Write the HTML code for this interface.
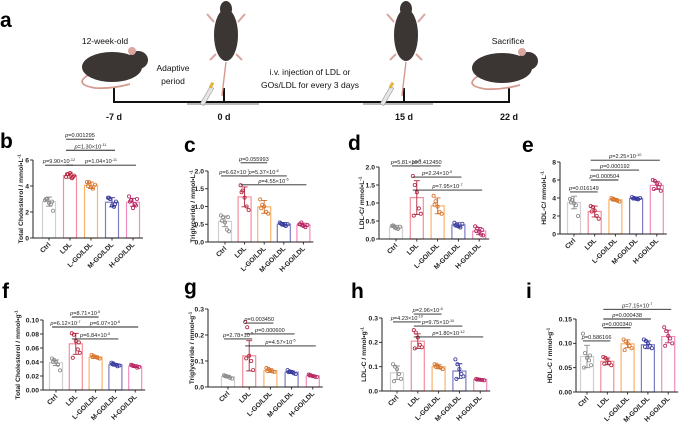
<!DOCTYPE html>
<html><head><meta charset="utf-8">
<style>
html,body{margin:0;padding:0;background:#fff;}
svg{display:block;font-family:"Liberation Sans",sans-serif;}
</style></head>
<body>
<svg id="fig" width="683" height="426" viewBox="0 0 683 426">
  <g>
    <text x="0" y="27" font-size="21" font-weight="bold">a</text>
    <line x1="114" y1="102" x2="510" y2="102" stroke="#111" stroke-width="2"/>
    <rect x="187" y="103" width="72" height="2" fill="#bbb"/>
    <rect x="363" y="103" width="70" height="2" fill="#bbb"/>
    <line x1="114" y1="88" x2="114" y2="103" stroke="#111" stroke-width="2"/>
    <line x1="224" y1="88" x2="224" y2="103" stroke="#111" stroke-width="2"/>
    <line x1="404" y1="88" x2="404" y2="103" stroke="#111" stroke-width="2"/>
    <line x1="509" y1="88" x2="509" y2="103" stroke="#111" stroke-width="2"/>
    <g font-size="9" font-weight="bold" text-anchor="middle" fill="#111">
      <text x="114" y="120">-7 d</text>
      <text x="224" y="120">0 d</text>
      <text x="404" y="120">15 d</text>
      <text x="509" y="120">22 d</text>
    </g>
    <g font-size="8.5" text-anchor="middle" fill="#111">
      <text x="105" y="44">12-week-old</text>
      <text x="173" y="71">Adaptive</text>
      <text x="173" y="84">period</text>
      <text x="310" y="75">i.v. injection of LDL or</text>
      <text x="310" y="88">GOs/LDL for every 3 days</text>
      <text x="508" y="44">Sacrifice</text>
    </g>
    <g>
      <path d="M90 74 Q72 84 95 88 Q112 89 130 84" stroke="#d49a8e" stroke-width="1.8" fill="none"/>
      <ellipse cx="112" cy="67" rx="30" ry="15" fill="#3b3534"/>
      <ellipse cx="138" cy="60" rx="10" ry="9" fill="#3b3534"/>
      <circle cx="132" cy="51" r="4" fill="#d9a6a0"/>
    </g>
    <g>
      <path d="M480 75 Q462 85 485 89 Q502 90 520 85" stroke="#d49a8e" stroke-width="1.8" fill="none"/>
      <ellipse cx="502" cy="68" rx="30" ry="15" fill="#3b3534"/>
      <ellipse cx="528" cy="61" rx="10" ry="9" fill="#3b3534"/>
      <circle cx="522" cy="52" r="4" fill="#d9a6a0"/>
    </g>
    <g>
      <path d="M226 62 Q224 78 222 96" stroke="#d49a8e" stroke-width="1.4" fill="none"/>
      <ellipse cx="226" cy="35" rx="12" ry="26" fill="#3b3534"/>
      <ellipse cx="226" cy="9" rx="6" ry="8" fill="#3b3534"/>
      <path d="M214 22 L207 14 M238 22 L245 14 M216 54 L210 60 M236 54 L242 60" stroke="#d9a6a0" stroke-width="2"/>
      <rect x="205" y="86" width="4" height="20" fill="#e6e6e6" stroke="#999" stroke-width="0.6" transform="rotate(30 207 96)"/>
      <rect x="210" y="82" width="3" height="6" fill="#e3b33a" transform="rotate(30 211 85)"/>
    </g>
    <g>
      <path d="M406 62 Q404 78 402 96" stroke="#d49a8e" stroke-width="1.4" fill="none"/>
      <ellipse cx="406" cy="35" rx="12" ry="26" fill="#3b3534"/>
      <ellipse cx="406" cy="9" rx="6" ry="8" fill="#3b3534"/>
      <path d="M394 22 L387 14 M418 22 L425 14 M396 54 L390 60 M416 54 L422 60" stroke="#d9a6a0" stroke-width="2"/>
      <rect x="385" y="86" width="4" height="20" fill="#e6e6e6" stroke="#999" stroke-width="0.6" transform="rotate(30 387 96)"/>
      <rect x="390" y="82" width="3" height="6" fill="#e3b33a" transform="rotate(30 391 85)"/>
    </g>
  </g>
  <g id="charts"></g>
</svg>
<script>
const cats = ['Ctrl','LDL','L-GO/LDL','M-GO/LDL','H-GO/LDL'];

const bMeans = [2.8, 4.8, 4.05, 2.75, 2.75];
const bSD = [0.35, 0.2, 0.25, 0.35, 0.3];
const bPoints = [[2.9,3.0,2.7,2.6,2.1,3.0,2.8],[4.7,4.9,5.0,4.6,4.8,4.9,4.7],[4.3,4.3,3.9,3.8,4.1,4.0],[3.1,3.0,2.5,2.4,2.8,3.1,2.6],[3.2,2.9,2.3,2.6,3.0,2.8,2.5]];
const bTicks = [0,2,4,6];
const bTickLabels = ['0','2','4','6'];
const bPvals = [[1,2,7.6,'0.001295'],[1,3,6.75,'1.30×10|-11'],[0,1,5.6,'9.90×10|-12'],[1,4,5.6,'1.04×10|-11']];

const cMeans = [0.58, 1.27, 0.99, 0.5, 0.48];
const cSD = [0.15, 0.28, 0.18, 0.05, 0.05];
const cPoints = [[0.75,0.7,0.55,0.35,0.3,0.6,0.7],[1.6,1.45,1.25,1.0,0.9,1.4],[1.2,1.05,1.0,0.85,0.8,0.95],[0.55,0.5,0.48,0.45,0.5,0.52],[0.5,0.55,0.45,0.42,0.48,0.5]];
const cTicks = [0,0.5,1,1.5,2];
const cTickLabels = ['0.0','0.5','1.0','1.5','2.0'];
const cPvals = [[1,2,2.23,'0.055993'],[0,1,1.86,'6.62×10|-7'],[1,3,1.86,'5.37×10|-6'],[1,4,1.61,'4.55×10|-6']];

const dMeans = [0.33, 1.15, 0.92, 0.39, 0.22];
const dSD = [0.05, 0.47, 0.22, 0.06, 0.1];
const dPoints = [[0.36,0.35,0.3,0.28,0.34,0.38],[1.75,1.5,1.3,0.85,0.7,0.65],[1.2,1.05,0.9,0.75,0.7,0.95],[0.45,0.4,0.35,0.32,0.42,0.38],[0.35,0.3,0.2,0.12,0.1,0.22,0.25]];
const dTicks = [0,0.5,1,1.5,2];
const dTickLabels = ['0.0','0.5','1.0','1.5','2.0'];
const dPvals = [[0,1,2.03,'5.81×10|-6'],[1,2,2.03,'0.412450'],[1,3,1.72,'2.24×10|-5'],[1,4,1.36,'7.95×10|-7']];

const eMeans = [3.5, 2.5, 3.8, 3.95, 5.4];
const eSD = [0.7, 0.6, 0.15, 0.15, 0.45];
const ePoints = [[3.9,3.8,3.4,3.2,2.0,3.5],[3.1,3.0,2.6,2.0,1.7,2.5],[4.0,3.9,3.8,3.7,3.6,3.85],[4.1,4.0,3.9,3.85,4.0,3.95],[6.0,5.9,5.6,5.2,4.8,5.0,5.5]];
const eTicks = [0,2,4,6,8];
const eTickLabels = ['0','2','4','6','8'];
const ePvals = [[1,4,8.2,'2.25×10|-10'],[1,3,7.1,'0.000192'],[1,2,6.0,'0.000504'],[0,1,4.67,'0.016149']];

const fMeans = [0.039, 0.066, 0.047, 0.036, 0.034];
const fSD = [0.004, 0.015, 0.002, 0.002, 0.002];
const fPoints = [[0.045,0.043,0.04,0.036,0.028,0.04],[0.081,0.079,0.07,0.058,0.053,0.046,0.068],[0.05,0.049,0.047,0.046,0.045,0.047],[0.039,0.038,0.036,0.034,0.035,0.037],[0.036,0.035,0.034,0.032,0.033,0.035]];
const fTicks = [0,0.02,0.04,0.06,0.08,0.10];
const fTickLabels = ['0.00','0.02','0.04','0.06','0.08','0.10'];
const fPvals = [[1,2,0.1043,'8.71×10|-5'],[0,1,0.09,'6.12×10|-7'],[1,4,0.09,'6.07×10|-6'],[1,3,0.0729,'6.84×10|-5']];

const gMeans = [0.04, 0.12, 0.063, 0.057, 0.043];
const gSD = [0.005, 0.058, 0.007, 0.005, 0.004];
const gPoints = [[0.045,0.043,0.04,0.035,0.032,0.042],[0.25,0.23,0.12,0.10,0.065,0.11],[0.073,0.07,0.065,0.06,0.058,0.062],[0.065,0.06,0.058,0.053,0.05,0.057],[0.048,0.045,0.042,0.04,0.038,0.044]];
const gTicks = [0,0.1,0.2,0.3];
const gTickLabels = ['0.0','0.1','0.2','0.3'];
const gPvals = [[1,2,0.246,'0.003450'],[1,3,0.204,'0.000600'],[0,1,0.185,'2.78×10|-5'],[1,4,0.158,'4.57×10|-5']];

const hMeans = [0.075, 0.205, 0.1, 0.082, 0.047];
const hSD = [0.028, 0.03, 0.008, 0.03, 0.003];
const hPoints = [[0.11,0.1,0.09,0.07,0.05,0.04],[0.25,0.24,0.22,0.19,0.18,0.175],[0.11,0.108,0.1,0.095,0.09,0.1],[0.13,0.11,0.09,0.07,0.06,0.05],[0.05,0.048,0.046,0.045,0.044,0.047]];
const hTicks = [0,0.1,0.2,0.3];
const hTickLabels = ['0.0','0.1','0.2','0.3'];
const hPvals = [[1,2,0.316,'2.96×10|-6'],[0,1,0.284,'4.23×10|-10'],[1,3,0.267,'9.75×10|-10'],[1,4,0.222,'1.80×10|-12']];

const iMeans = [0.073, 0.063, 0.099, 0.097, 0.114];
const iSD = [0.023, 0.007, 0.008, 0.008, 0.013];
const iPoints = [[0.12,0.08,0.07,0.065,0.055,0.05,0.075],[0.072,0.07,0.065,0.06,0.055,0.058],[0.108,0.104,0.1,0.095,0.09,0.086],[0.108,0.105,0.1,0.095,0.09,0.093],[0.133,0.125,0.115,0.11,0.1,0.095]];
const iTicks = [0,0.05,0.10,0.15];
const iTickLabels = ['0.00','0.05','0.10','0.15'];
const iPvals = [[1,4,0.170,'7.15×10|-7'],[1,3,0.150,'0.000438'],[1,2,0.132,'0.000340'],[0,1,0.105,'0.586166']];

const barStroke = ['#d0d0d0','#f48e9b','#f9b36a','#7c7cc4','#f28dbd'];
const dotColor = ['#8a8a8a','#b3243c','#d4722a','#35379a','#b6245f'];
const jit = [-4,-2,0,2,4,-3,3];
const NS = 'http://www.w3.org/2000/svg';
const root = document.getElementById('charts');

function mk(tag, attrs, parent){
  const el = document.createElementNS(NS, tag);
  for (const k in attrs) el.setAttribute(k, attrs[k]);
  parent.appendChild(el);
  return el;
}

function pText(parent, x, y, s){
  const t = mk('text', {x:x, y:y, 'font-size':5.6, 'text-anchor':'middle', fill:'#222'}, parent);
  const it = mk('tspan', {'font-style':'italic'}, t);
  it.textContent = 'p';
  const parts = s.split('|');
  const m = mk('tspan', {}, t);
  m.textContent = '=' + parts[0];
  if (parts[1]) {
    const sup = mk('tspan', {'font-size':3.8, dy:-2.2}, t);
    sup.textContent = parts[1];
  }
  return t;
}

function panel(key, L, title, means, sds, pts, ticks, tickLabels, pvals){
  const g = mk('g', {}, root);
  
  
  const yMax = ticks[ticks.length-1];
  const yS = v => L.y0 - v / yMax * (L.y0 - L.top);
  const xS = i => L.first + i * L.step;
  const lab = mk('text', {x:L.lx, y:L.ly, 'font-size':21, 'font-weight':'bold'}, g);
  lab.textContent = key;
  
  
  means.forEach((m, i) => {
    const r = mk('rect', {x:xS(i)-6.5, y:yS(m), width:13, height:L.y0-yS(m), fill:'#fff', stroke:barStroke[i], 'stroke-width':1.2}, g);
    
    
  });
  pts.forEach((arr, i) => {
    arr.forEach((v, k) => {
      const c = mk('circle', {cx:xS(i)+jit[k%jit.length], cy:yS(v), r:1.6, fill:'none', stroke:dotColor[i], 'stroke-width':0.8}, g);
      
      
    });
  });
  means.forEach((m, i) => {
    const x = xS(i), a = yS(m + sds[i]), b = yS(m - sds[i]);
    const e = mk('path', {d:'M'+x+' '+a+'V'+b+'M'+(x-3)+' '+a+'H'+(x+3)+'M'+(x-3)+' '+b+'H'+(x+3), stroke:dotColor[i], 'stroke-width':0.9, fill:'none'}, g);
    
    
  });
  const xEnd = xS(4) + 10;
  const ax = mk('path', {d:'M'+L.ax+' '+L.top+'V'+L.y0+'H'+xEnd, stroke:'#222', 'stroke-width':1, fill:'none'}, g);
  
  
  ticks.forEach((t, k) => {
    mk('line', {x1:L.ax-3, x2:L.ax, y1:yS(t), y2:yS(t), stroke:'#222', 'stroke-width':0.9}, g);
    const tl = mk('text', {x:L.ax-4, y:yS(t)+2.3, 'font-size':6.8, 'font-weight':'bold', 'text-anchor':'end', fill:'#222'}, g);
    tl.textContent = tickLabels[k];
    
    
  });
  cats.forEach((c, i) => {
    mk('line', {x1:xS(i), x2:xS(i), y1:L.y0, y2:L.y0+2.5, stroke:'#222', 'stroke-width':0.9}, g);
    const x = xS(i) + 2, y = L.y0 + 7;
    const tl = mk('text', {x:x, y:y, 'font-size':6.8, 'font-weight':'bold', 'text-anchor':'end', fill:'#222', transform:'rotate(-45 '+x+' '+y+')'}, g);
    tl.textContent = c;
    
    
  });
  const mid = (L.y0 + L.top) / 2;
  const yt = mk('text', {x:L.tx, y:mid, 'font-size':6.8, 'font-weight':'bold', 'text-anchor':'middle', fill:'#222', transform:'rotate(-90 '+L.tx+' '+mid+')'}, g);
  yt.textContent = title[0];
  const sup = mk('tspan', {'font-size':4.5, dy:-2.5}, yt);
  sup.textContent = '-1';
  
  
  pvals.forEach(p => {
    const y = yS(p[2]);
    const x1 = xS(p[0]) - 4, x2 = xS(p[1]) + 3;
    const ln = mk('line', {x1:x1, x2:x2, y1:y, y2:y, stroke:'#222', 'stroke-width':0.9}, g);
    
    
    const t = pText(g, (x1+x2)/2, y-2, p[3]);
    
    
  });
}

panel('b', {ax:33, y0:238, top:160, first:49, step:21, lx:0, ly:148, tx:23}, ['Total Cholesterol / mmol•L'], bMeans, bSD, bPoints, bTicks, bTickLabels, bPvals);
panel('c', {ax:208, y0:242, top:171, first:225, step:19.6, lx:184, ly:152, tx:195}, ['Triglyceride / mmol•L'], cMeans, cSD, cPoints, cTicks, cTickLabels, cPvals);
panel('d', {ax:379, y0:239, top:167, first:396, step:20.8, lx:348, ly:150, tx:364}, ['LDL-C/ mmol•L'], dMeans, dSD, dPoints, dTicks, dTickLabels, dPvals);
panel('e', {ax:560, y0:234, top:162, first:574, step:20.7, lx:522, ly:152, tx:546}, ['HDL-C/ mmol•L'], eMeans, eSD, ePoints, eTicks, eTickLabels, ePvals);
panel('f', {ax:43, y0:390, top:320, first:56, step:19.8, lx:2, ly:298, tx:20}, ['Total Cholesterol / mmol•g'], fMeans, fSD, fPoints, fTicks, fTickLabels, fPvals);
panel('g', {ax:208, y0:387, top:309, first:228, step:21.2, lx:184, ly:294, tx:194}, ['Triglyceride / mmol•g'], gMeans, gSD, gPoints, gTicks, gTickLabels, gPvals);
panel('h', {ax:382, y0:391, top:318, first:397, step:20.8, lx:351, ly:298, tx:366}, ['LDL-C / mmol•g'], hMeans, hSD, hPoints, hTicks, hTickLabels, hPvals);
panel('i', {ax:576, y0:392, top:319, first:587, step:20.3, lx:526, ly:298, tx:552}, ['HDL-C / mmol•g'], iMeans, iSD, iPoints, iTicks, iTickLabels, iPvals);
</script>
</body></html>
